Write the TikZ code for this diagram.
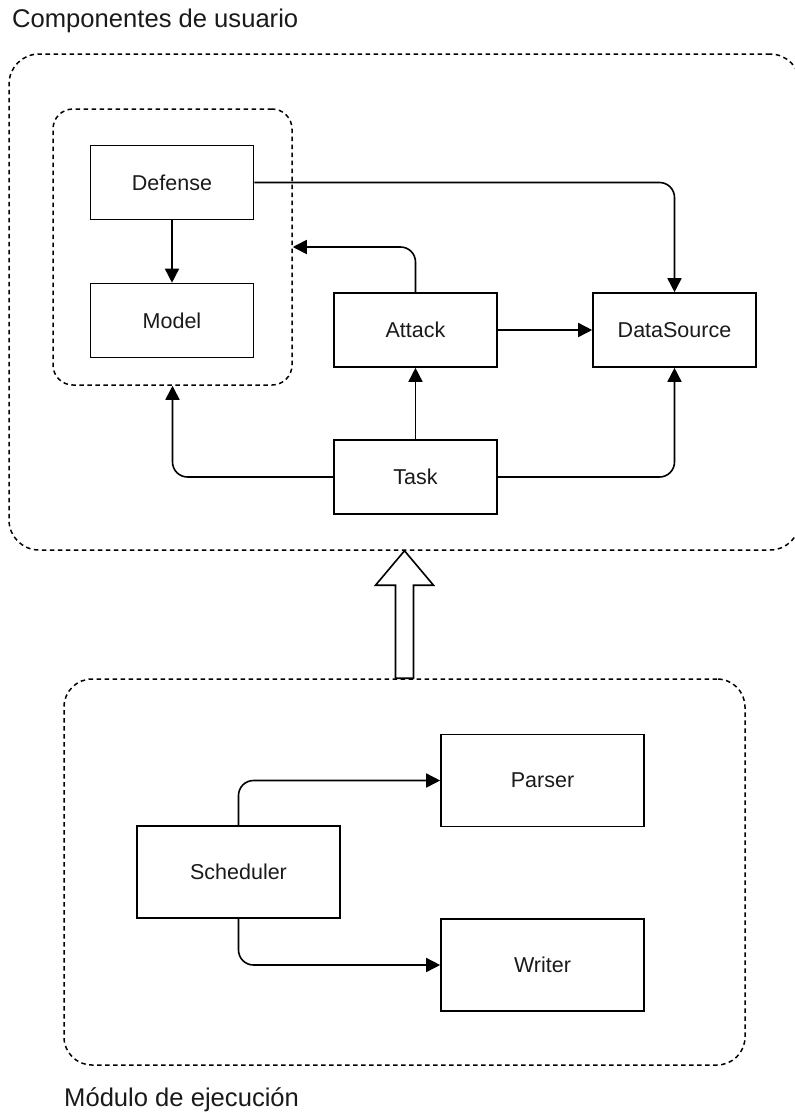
\documentclass[tikz,border=0pt]{standalone}
\usepackage{fontspec}
\setmainfont{Liberation Sans}
\usetikzlibrary{arrows.meta}
\definecolor{txt}{HTML}{1A1A1A}
\tikzset{
  box/.style={draw=black, line width=1.6pt, fill=white, text=txt, font=\fontsize{21.5}{26}\selectfont, inner sep=0pt},
  smallbox/.style={box, minimum width=163pt, minimum height=74pt},
  bigbox/.style={box, minimum width=203pt, minimum height=92pt},
  group/.style={draw=black, line width=1.5pt, dash pattern=on 4.5pt off 3.5pt, rounded corners=#1, inner sep=0pt},
  conn/.style={draw=black, line width=1.6pt, rounded corners=15pt, -{Triangle[length=14pt,width=14pt]}},
  lbl/.style={text=txt, font=\fontsize{25.6}{30}\selectfont, inner sep=0pt, anchor=base west},
  hollow/.style={draw=black, line width=1.6pt, fill=white, line join=miter}
}
\begin{document}
\begin{tikzpicture}[x=1pt, y=-1pt]
\clip (0,0) rectangle (795,1117);
\fill[white] (0,0) rectangle (795,1117);

% group containers
\node[group=30pt, minimum width=791pt, minimum height=496pt] (outer) at (404.5,302) {};
\node[group=20pt, minimum width=239pt, minimum height=276pt] (grp) at (172.5,247) {};
\node[group=28pt, minimum width=681pt, minimum height=386pt] (lower) at (404.5,872) {};

% labels
\node[lbl] (t1) at (12,27) {Componentes de usuario};
\node[lbl] (t2) at (64,1106) {Módulo de ejecución};

% user components
\node[smallbox] (def) at (172,182.5) {Defense};
\node[smallbox] (mod) at (172,320.5) {Model};
\node[smallbox] (att) at (415.5,330) {Attack};
\node[smallbox] (ds) at (674.5,330) {DataSource};
\node[smallbox] (task) at (415.5,477) {Task};

% execution module
\node[bigbox] (sch) at (238.5,872) {Scheduler};
\node[bigbox] (par) at (542.5,780.5) {Parser};
\node[bigbox] (wri) at (542.5,965) {Writer};

% connectors
\draw[conn] (def.south) -- (mod.north);
\draw[conn] (def.east) -| (ds.north);
\draw[conn] (att.north) |- (grp.east);
\draw[conn] (att.east) -- (ds.west);
\draw[conn] (task.north) -- (att.south);
\draw[conn] (task.east) -| (ds.south);
\draw[conn] (task.west) -| (grp.south);
\draw[conn] (sch.north) |- (par.west);
\draw[conn] (sch.south) |- (wri.west);

% big hollow arrow from execution module to user components
\coordinate (ab) at (lower.north);
\coordinate (at) at (outer.south);
\draw[hollow] ([xshift=-9pt]ab) -- ([xshift=-9pt,yshift=93pt]ab)
  -- ([xshift=-29pt,yshift=93pt]ab) -- (at)
  -- ([xshift=29pt,yshift=93pt]ab) -- ([xshift=9pt,yshift=93pt]ab)
  -- ([xshift=9pt]ab) -- cycle;
\end{tikzpicture}
\end{document}
